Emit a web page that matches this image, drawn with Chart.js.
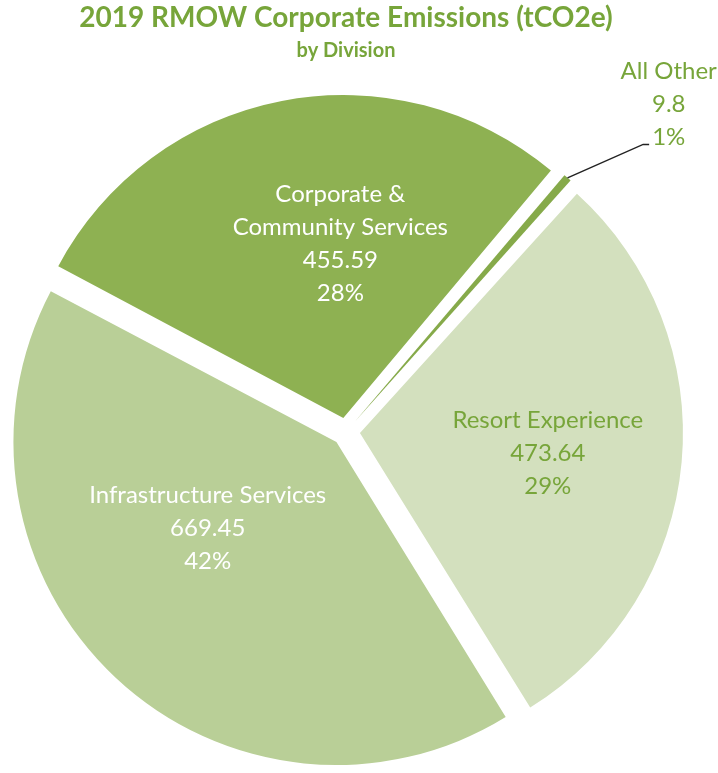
<!DOCTYPE html>
<html>
<head>
<meta charset="utf-8">
<title>2019 RMOW Corporate Emissions</title>
<script src="https://cdn.jsdelivr.net/npm/chart.js"></script>
<style>
  html, body { margin: 0; padding: 0; background: #fff; }
  canvas { display: block; }
</style>
</head>
<body>
<canvas id="emissionsChart" width="718" height="773"></canvas>
<script>
// tCO2e per division, 2019
const divisions = ['All Other', 'Resort Experience', 'Infrastructure Services', 'Corporate & Community Services'];
const emissions = [9.8, 473.64, 669.45, 455.59];
const labelLines = [['All Other'], ['Resort Experience'], ['Infrastructure Services'], ['Corporate &', 'Community Services']];
const sliceColors = ['#86AA4A', '#D3E0BE', '#B9CF97', '#8EB152'];
const labelColors = ['#77A53A', '#77A53A', '#FFFFFF', '#FFFFFF'];

const total = emissions.reduce((a, b) => a + b, 0);

// Chart.js grows wide exploded arcs by offset*(1 - sin(circumference));
// pull that back so every slice keeps the same radius
const evenExplode = {
  id: 'evenExplode',
  beforeDatasetDraw(chart) {
    chart.getDatasetMeta(0).data.forEach(arc => {
      const extra = (arc.options.offset || 0) / 4 * (1 - Math.sin(Math.min(Math.PI, arc.circumference)));
      arc._fullRadius = arc.outerRadius;
      arc.outerRadius = arc._fullRadius - extra;
    });
  },
  afterDatasetDraw(chart) {
    chart.getDatasetMeta(0).data.forEach(arc => {
      arc.outerRadius = arc._fullRadius;
    });
  }
};

// writes value + share inside each slice, the tiny one gets a leader line
const sliceLabels = {
  id: 'sliceLabels',
  afterDatasetsDraw(chart, args, opts) {
    const ctx = chart.ctx;
    const meta = chart.getDatasetMeta(0);
    ctx.save();
    ctx.font = opts.size + 'px Lato';
    ctx.textAlign = 'center';
    ctx.textBaseline = 'middle';
    meta.data.forEach((arc, i) => {
      const p = arc.getProps(['x', 'y', 'startAngle', 'endAngle', 'outerRadius'], true);
      const mid = (p.startAngle + p.endAngle) / 2;
      const shift = (arc.options.offset || 0) / 4;
      const cx = p.x + Math.cos(mid) * shift;
      const cy = p.y + Math.sin(mid) * shift;
      const place = opts.placement[i];
      const a = mid + place.turn * Math.PI / 180;
      const tx = cx + Math.cos(a) * p.outerRadius * place.dist;
      const ty = cy + Math.sin(a) * p.outerRadius * place.dist;
      const lines = [...labelLines[i], String(emissions[i]), Math.round(emissions[i] / total * 100) + '%'];
      ctx.fillStyle = labelColors[i];
      lines.forEach((txt, k) => {
        ctx.fillText(txt, tx, ty + (k - (lines.length - 1) / 2) * opts.lineHeight);
      });
      if (place.leader) {
        const lastY = ty + (lines.length - 1) / 2 * opts.lineHeight + 7;
        const endX = tx - ctx.measureText(lines[lines.length - 1]).width / 2 - 3;
        ctx.beginPath();
        ctx.moveTo(cx + Math.cos(mid) * p.outerRadius, cy + Math.sin(mid) * p.outerRadius);
        ctx.lineTo(endX - 6, lastY);
        ctx.lineTo(endX, lastY);
        ctx.strokeStyle = '#222';
        ctx.lineWidth = 1.5;
        ctx.stroke();
      }
    });
    ctx.restore();
  }
};

Chart.defaults.font.family = 'Lato';

new Chart(document.getElementById('emissionsChart'), {
  type: 'pie',
  data: {
    labels: divisions,
    datasets: [{
      data: emissions,
      backgroundColor: sliceColors,
      borderWidth: 0,
      offset: 56,
      hoverOffset: 56
    }]
  },
  plugins: [evenExplode, sliceLabels],
  options: {
    responsive: false,
    animation: false,
    rotation: 40,
    radius: 323,
    layout: { padding: { left: 0, right: 26, top: 0, bottom: 0 } },
    events: [],
    plugins: {
      legend: { display: false },
      tooltip: { enabled: false },
      title: {
        display: true,
        text: '2019 RMOW Corporate Emissions (tCO2e)',
        color: '#77A53A',
        font: { size: 28, weight: 'bold' },
        padding: { top: 1, bottom: 0 }
      },
      subtitle: {
        display: true,
        text: 'by Division',
        color: '#77A53A',
        font: { size: 20, weight: 'bold' },
        padding: { top: 4, bottom: 28 }
      },
      sliceLabels: {
        size: 24,
        lineHeight: 33,
        placement: [
          { turn: 3.6, dist: 1.38, leader: true },
          { turn: 1, dist: 0.585 },
          { turn: 13, dist: 0.48 },
          { turn: 10, dist: 0.54 }
        ]
      }
    }
  }
});
</script>
</body>
</html>
